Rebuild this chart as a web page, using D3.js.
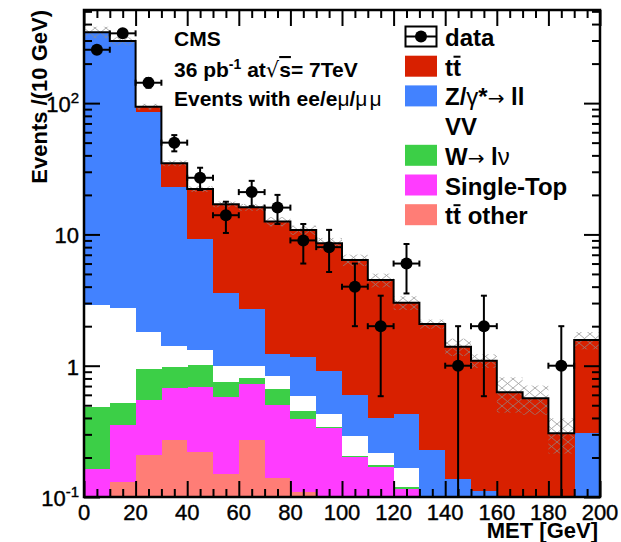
<!DOCTYPE html>
<html>
<head>
<meta charset="utf-8">
<script src="https://cdn.jsdelivr.net/npm/d3@7"></script>
<style>
body { margin: 0; background: #fff; }
svg text { font-family: "Liberation Sans", Arial, Helvetica, sans-serif; }
</style>
</head>
<body>
<svg id="chart" width="621" height="542"></svg>
<script>
// MET bins (lower edge, GeV), 10 GeV wide
var binLow = [0, 10, 20, 30, 40, 50, 60, 70, 80, 90, 100, 110, 120, 130, 140, 150, 160, 170, 180, 190];

// MC contributions per bin (events / 10 GeV), stacked bottom to top
var ttOther   = [0, 0.13, 0.21, 0.27, 0.22, 0.15, 0.27, 0.14, 0.11, 0, 0, 0, 0, 0, 0, 0, 0, 0, 0, 0];
var singleTop = [0.163, 0.226, 0.342, 0.405, 0.471, 0.432, 0.458, 0.366, 0.281, 0.334, 0.2, 0.17, 0.116, 0, 0, 0, 0, 0, 0, 0];
var wlnu      = [0.324, 0.163, 0.40, 0.31, 0.318, 0.174, 0.076, 0.159, 0.063, 0.006, 0.005, 0.004, 0.003, 0, 0, 0, 0, 0, 0, 0];
var diboson   = [2.41, 2.22, 0.845, 0.437, 0.31, 0.24, 0.198, 0.164, 0.134, 0.086, 0.086, 0.043, 0.046, 0, 0, 0, 0, 0, 0, 0];
var zll       = [340, 291, 84.2, 21.7, 7.86, 2.56, 1.69, 0.405, 0.572, 0.49, 0.307, 0.181, 0.261, 0.228, 0.137, 0.112, 0, 0, 0, 0.309];
var ttbar     = [4, 3, 8, 11.7, 13.0, 13.4, 13.4, 11.3, 9.64, 7.63, 5.78, 4.09, 2.59, 1.85, 1.26, 0.98, 0.627, 0.565, 0.306, 1.26];
// relative uncertainty of the MC sum (hatched band)
var mcUncert  = [0.1, 0.07, 0.05, 0.05, 0.05, 0.05, 0.06, 0.08, 0.08, 0.1, 0.1, 0.12, 0.12, 0.08, 0.15, 0.12, 0.3, 0.25, 0.3, 0.15];

// observed events
var dataCounts = [255, 340, 143, 50, 27, 14, 21, 16, 9, 8, 4, 2, 6, 0, 1, 2, 0, 0, 1, 0];

var xTickLabels = [0, 20, 40, 60, 80, 100, 120, 140, 160, 180, 200];
var yMajor = [0.1, 1, 10, 100];
var yMinor = [0.2, 0.3, 0.4, 0.5, 0.6, 0.7, 0.8, 0.9, 2, 3, 4, 5, 6, 7, 8, 9, 20, 30, 40, 50, 60, 70, 80, 90, 200, 300, 400, 500];

var seriesKeys   = ["ttOther", "singleTop", "wlnu", "diboson", "zll", "ttbar"];
var seriesColors = ["#ff7d76", "#ff3cff", "#3ccf47", "#ffffff", "#4282ff", "#d82000"];

var margin = {top: 10, right: 21, bottom: 45, left: 84};
var width = 516;
var height = 487;

var svg = d3.select("#chart")
    .append("g")
    .attr("transform", "translate(" + margin.left + "," + margin.top + ")");

var x = d3.scaleLinear().domain([0, 200]).range([0, width]);
var y = d3.scaleLog().domain([0.1, 512]).range([height, 0]).clamp(true);
function yv(v) { return v <= 0.1 ? height : y(v); }

// table for the stack
var table = binLow.map(function(b, i) {
    return {bin: b, ttOther: ttOther[i], singleTop: singleTop[i], wlnu: wlnu[i],
            diboson: diboson[i], zll: zll[i], ttbar: ttbar[i]};
});
var stacked = d3.stack().keys(seriesKeys)(table);

var defs = d3.select("#chart").append("defs");
var clip = defs.append("clipPath").attr("id", "plotclip");
clip.append("rect").attr("width", width).attr("height", height);

var hatch = defs.append("pattern")
    .attr("id", "hatch")
    .attr("patternUnits", "userSpaceOnUse")
    .attr("width", 11).attr("height", 9);
hatch.append("path").attr("d", "M0,0L11,9M0,9L11,0")
    .attr("stroke", "#8c8c8c").attr("stroke-width", 0.9).attr("fill", "none");

var plot = svg.append("g").attr("clip-path", "url(#plotclip)");

stacked.forEach(function(layer, k) {
    plot.append("g")
        .selectAll("rect")
        .data(layer)
        .enter()
        .append("rect")
        .attr("shape-rendering", "crispEdges")
        .attr("fill", seriesColors[k])
        .attr("x", function(d) { return x(d.data.bin); })
        .attr("width", x(10) - x(0) + 0.5)
        .attr("y", function(d) { return yv(d[1]); })
        .attr("height", function(d) { return Math.max(0, yv(d[0]) - yv(d[1])); });
});

var totals = stacked[stacked.length - 1].map(function(d) { return d[1]; });

// uncertainty band
plot.append("g")
    .attr("opacity", 0.8)
    .selectAll("rect")
    .data(totals)
    .enter()
    .append("rect")
    .attr("fill", "url(#hatch)")
    .attr("x", function(d, i) { return x(binLow[i]); })
    .attr("width", x(10) - x(0))
    .attr("y", function(d, i) { return yv(d * (1 + mcUncert[i])); })
    .attr("height", function(d, i) { return yv(d * (1 - mcUncert[i])) - yv(d * (1 + mcUncert[i])); });

// outline of the MC sum
var stepPts = binLow.map(function(b, i) { return [x(b), yv(totals[i])]; });
stepPts.push([x(200), yv(totals[totals.length - 1])]);
plot.append("path")
    .attr("d", d3.line().curve(d3.curveStepAfter)(stepPts))
    .attr("fill", "none")
    .attr("stroke", "#000")
    .attr("stroke-width", 2);

// data points
var pts = binLow.map(function(b, i) { return {bin: b, n: dataCounts[i]}; })
    .filter(function(d) { return d.n > 0; });
var dg = plot.append("g").attr("stroke", "#000").attr("stroke-width", 2);
pts.forEach(function(d) {
    var cx = x(d.bin + 5), cy = yv(d.n);
    var e = Math.sqrt(d.n);
    var yHi = yv(d.n + e), yLo = yv(d.n - e);
    dg.append("line").attr("x1", cx).attr("x2", cx).attr("y1", yHi).attr("y2", yLo);
    dg.append("line").attr("x1", cx - 3).attr("x2", cx + 3).attr("y1", yHi).attr("y2", yHi);
    if (yLo < height - 1) {
        dg.append("line").attr("x1", cx - 3).attr("x2", cx + 3).attr("y1", yLo).attr("y2", yLo);
    }
    dg.append("line").attr("x1", x(d.bin)).attr("x2", x(d.bin + 10)).attr("y1", cy).attr("y2", cy);
    dg.append("line").attr("x1", x(d.bin)).attr("x2", x(d.bin)).attr("y1", cy - 3).attr("y2", cy + 3);
    dg.append("line").attr("x1", x(d.bin + 10)).attr("x2", x(d.bin + 10)).attr("y1", cy - 3).attr("y2", cy + 3);
    dg.append("circle").attr("cx", cx).attr("cy", cy).attr("r", 6).attr("fill", "#000").attr("stroke", "none");
});

// axes, ticks on the inside
function tickAxis(axis, tx, ty) {
    var g = svg.append("g").attr("transform", "translate(" + tx + "," + ty + ")").call(axis);
    g.select(".domain").remove();
    g.selectAll("line").attr("stroke", "#000").attr("stroke-width", 2);
    g.selectAll("text").remove();
    return g;
}
tickAxis(d3.axisRight(y).tickValues(yMajor).tickSize(16).tickFormat(""), 0, 0);
tickAxis(d3.axisRight(y).tickValues(yMinor).tickSize(8).tickFormat(""), 0, 0);
tickAxis(d3.axisLeft(y).tickValues(yMajor).tickSize(16).tickFormat(""), width, 0);
tickAxis(d3.axisLeft(y).tickValues(yMinor).tickSize(8).tickFormat(""), width, 0);

var xMinor = d3.range(0, 201, 5).filter(function(v) { return v % 20 != 0; });
tickAxis(d3.axisTop(x).tickValues(xTickLabels).tickSize(16).tickFormat(""), 0, height);
tickAxis(d3.axisTop(x).tickValues(xMinor).tickSize(8).tickFormat(""), 0, height);
tickAxis(d3.axisBottom(x).tickValues(xTickLabels).tickSize(16).tickFormat(""), 0, 0);
tickAxis(d3.axisBottom(x).tickValues(xMinor).tickSize(8).tickFormat(""), 0, 0);

svg.append("rect")
    .attr("width", width).attr("height", height)
    .attr("fill", "none").attr("stroke", "#000").attr("stroke-width", 2.5);

// tick labels
svg.append("g")
    .attr("stroke", "#000").attr("stroke-width", 0.4)
    .selectAll("text")
    .data(xTickLabels)
    .enter()
    .append("text")
    .attr("x", function(d) { return x(d); })
    .attr("y", height + 23)
    .attr("text-anchor", "middle")
    .attr("font-size", "22px")
    .text(function(d) { return d; });

var yLab = svg.append("g").attr("font-size", "22px").attr("text-anchor", "end")
    .attr("stroke", "#000").attr("stroke-width", 0.4);
yMajor.forEach(function(v) {
    var t = yLab.append("text").attr("x", -5).attr("y", y(v) + 9);
    if (v == 1) { t.text("1"); }
    else if (v == 10) { t.text("10"); }
    else {
        t.append("tspan").text("10");
        t.append("tspan").attr("font-size", "15px").attr("dy", -9).text(v == 100 ? "2" : "-1");
    }
});

// axis titles
svg.append("text")
    .attr("transform", "rotate(-90)")
    .attr("x", 0)
    .attr("y", 47 - margin.left)
    .attr("text-anchor", "end")
    .attr("font-size", "22px")
    .attr("font-weight", "bold")
    .text("Events /(10 GeV)");

svg.append("text")
    .attr("x", width - 2)
    .attr("y", height + 41)
    .attr("text-anchor", "end")
    .attr("font-size", "22px")
    .attr("font-weight", "bold")
    .text("MET [GeV]");

// CMS label
var info = svg.append("g").attr("font-size", "21px").attr("font-weight", "bold");
info.append("text").attr("x", 90).attr("y", 36).text("CMS");
var l2 = info.append("text").attr("x", 90).attr("y", 67);
l2.append("tspan").text("36 pb");
l2.append("tspan").attr("font-size", "14px").attr("dy", -8).text("-1");
l2.append("tspan").attr("dy", 8).text(" at");
l2.append("tspan").attr("font-weight", "normal").attr("font-family", "DejaVu Sans").text("\u221A");
l2.append("tspan").attr("text-decoration", "overline").text("s");
l2.append("tspan").text("= 7TeV");
var l3 = info.append("text").attr("x", 90).attr("y", 96);
l3.append("tspan").text("Events with ee/e");
l3.append("tspan").attr("font-weight", "normal").text("\u03BC");
l3.append("tspan").text("/");
l3.append("tspan").attr("font-weight", "normal").attr("letter-spacing", "2px").text("\u03BC\u03BC");

// legend
var legendLabels = ["data", "tt", "Z/\u03B3*\u2192 ll", "VV", "W\u2192 l\u03BD", "Single-Top", "tt other"];
var legendColors = [null, "#d82000", "#4282ff", null, "#3ccf47", "#ff3cff", "#ff7d76"];
var leg = svg.append("g").attr("transform", "translate(321,16)");
legendLabels.forEach(function(lab, i) {
    var top = i * 29.7;
    if (i == 0) {
        leg.append("rect").attr("x", 0.5).attr("y", top + 0.5).attr("width", 31).attr("height", 20)
            .attr("fill", "#fff").attr("stroke", "#000").attr("stroke-width", 2);
        leg.append("line").attr("x1", 1).attr("x2", 31).attr("y1", top + 10.5).attr("y2", top + 10.5)
            .attr("stroke", "#000").attr("stroke-width", 2);
        leg.append("circle").attr("cx", 16).attr("cy", top + 10.5).attr("r", 6).attr("fill", "#000");
    } else if (legendColors[i]) {
        leg.append("rect").attr("x", 0).attr("y", top).attr("width", 32).attr("height", 21)
            .attr("fill", legendColors[i]);
    }
    var t = leg.append("text").attr("x", 40).attr("y", top + 20)
        .attr("font-size", "24px").attr("font-weight", "bold");
    if (i == 2) {
        t.append("tspan").text("Z/");
        t.append("tspan").attr("font-weight", "normal").text("\u03B3");
        t.append("tspan").text("*");
        t.append("tspan").attr("font-family", "DejaVu Sans").attr("font-weight", "normal").attr("font-size", "20px").text("\u2192");
        t.append("tspan").text(" ll");
    } else if (i == 4) {
        t.append("tspan").text("W");
        t.append("tspan").attr("font-family", "DejaVu Sans").attr("font-weight", "normal").attr("font-size", "20px").text("\u2192");
        t.append("tspan").text(" l");
        t.append("tspan").attr("font-weight", "normal").text("\u03BD");
    } else {
        t.text(lab);
    }
    if (lab.indexOf("tt") == 0) {
        var n = t.node();
        var x0 = 40 + n.getSubStringLength(0, 1);
        var x1 = 40 + n.getSubStringLength(0, 2);
        leg.append("line").attr("x1", x0 + 0.5).attr("x2", x1 - 0.5)
            .attr("y1", top + 1).attr("y2", top + 1)
            .attr("stroke", "#000").attr("stroke-width", 2);
    }
});
</script>
</body>
</html>
